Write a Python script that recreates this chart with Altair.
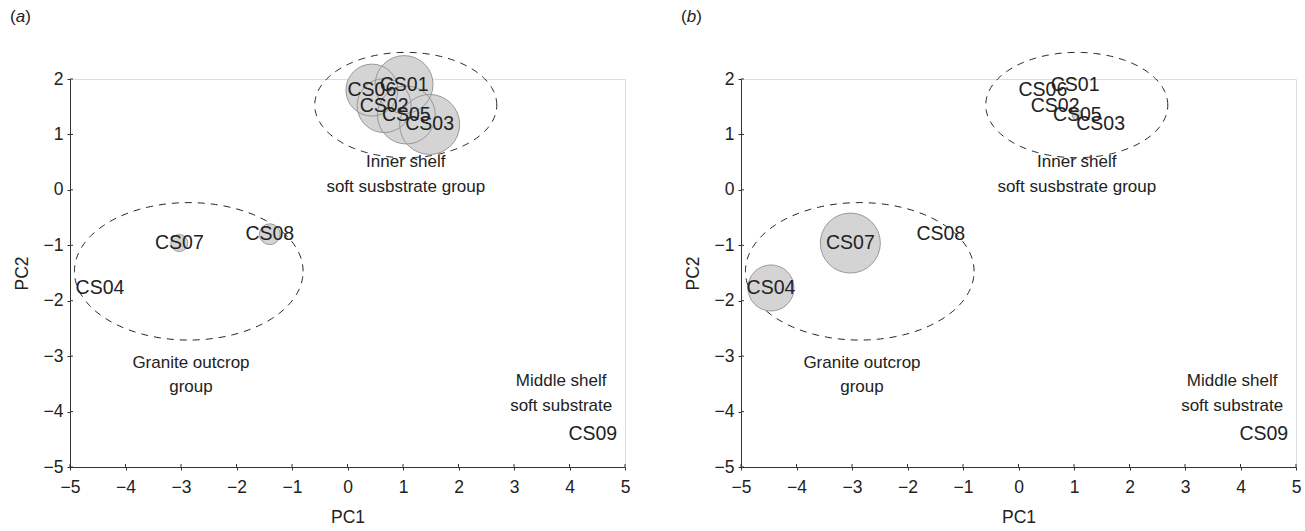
import numpy as np
import pandas as pd
import altair as alt

# ---- data ----
sites = ["CS01", "CS02", "CS03", "CS04", "CS05", "CS06", "CS07", "CS08", "CS09"]
pc1 = [1.02, 0.66, 1.48, -4.46, 1.06, 0.44, -3.03, -1.40, 4.42]
pc2 = [1.90, 1.52, 1.18, -1.77, 1.35, 1.80, -0.96, -0.80, -4.40]
abund_a = [93, 81, 100, 0, 93, 75, 8, 12, 0]
abund_b = [0, 0, 0, 59, 3, 0, 100, 0, 0]

groups = ["inner", "granite"]
ell_cx = [1.05, -2.86]
ell_cy = [1.53, -1.47]
ell_rx = [1.64, 2.06]
ell_ry = [0.95, 1.24]

ann_text = ["Inner shelf", "soft susbstrate group", "Granite outcrop", "group",
            "Middle shelf", "soft substrate"]
ann_x = [1.05, 1.05, -2.82, -2.82, 3.85, 3.85]
ann_y = [0.50, 0.05, -3.12, -3.56, -3.45, -3.90]

x_ticks = [-5, -4, -3, -2, -1, 0, 1, 2, 3, 4, 5]
y_ticks = [-5, -4, -3, -2, -1, 0, 1, 2]

FONT = "Liberation Sans"
W, H = 555, 388

# ---- tables ----
theta = np.linspace(0, 2 * np.pi, 241)
ell_rows = []
for g, cx, cy, rx, ry in zip(groups, ell_cx, ell_cy, ell_rx, ell_ry):
    for i, t in enumerate(theta):
        ell_rows.append({"group": g, "i": i, "x": cx + rx * np.cos(t), "y": cy + ry * np.sin(t)})
ell_df = pd.DataFrame(ell_rows)
ann_df = pd.DataFrame({"text": ann_text, "x": ann_x, "y": ann_y})
xt_df = pd.DataFrame({"t": x_ticks})
yt_df = pd.DataFrame({"t": y_ticks})

xscale = alt.Scale(domain=[-5, 5], nice=False, zero=False)
yscale = alt.Scale(domain=[-5, 2], nice=False, zero=False)

axis_common = dict(
    grid=False, domainColor="#333", tickColor="#333", domainWidth=1, tickWidth=1,
    tickSize=3, labelFont=FONT, labelFontSize=17.5, labelColor="#222", format="d",
    titleFont=FONT, titleFontSize=17.5, titleFontWeight="normal", titleColor="#222",
    labelFlush=False, labelOverlap=False,
)


def panel(abund, letter):
    df = pd.DataFrame({"site": sites, "x": pc1, "y": pc2, "ab": abund})
    X = alt.X("x:Q", scale=xscale, title="PC1",
              axis=alt.Axis(values=x_ticks, labelPadding=8, titlePadding=13, **axis_common))
    Y = alt.Y("y:Q", scale=yscale, title="PC2",
              axis=alt.Axis(values=y_ticks, labelPadding=4, titlePadding=12, **axis_common))
    size = alt.Size("ab:Q", scale=alt.Scale(domain=[0, 100], range=[0, 3600]), legend=None)

    base = alt.Chart(df).transform_filter("datum.ab > 0")
    fills = base.mark_point(shape="circle", filled=True, fill="#d4d4d4", opacity=1,
                            strokeWidth=0).encode(x=X, y=Y, size=size)
    strokes = base.mark_point(shape="circle", filled=False, stroke="#999999", opacity=1,
                              strokeWidth=1).encode(x=X, y=Y, size=size)
    labels = alt.Chart(df).mark_text(font=FONT, fontSize=19.5, color="#222",
                                     baseline="middle").encode(x=X, y=Y, text="site:N")
    ell = alt.Chart(ell_df).mark_line(color="#222", strokeWidth=1, strokeDash=[7, 6]).encode(
        x=alt.X("x:Q", scale=xscale), y=alt.Y("y:Q", scale=yscale),
        detail="group:N", order="i:Q")
    ann = alt.Chart(ann_df).mark_text(font=FONT, fontSize=17, color="#222",
                                      baseline="middle").encode(
        x=alt.X("x:Q", scale=xscale), y=alt.Y("y:Q", scale=yscale), text="text:N")
    xin = alt.Chart(xt_df).mark_rule(color="#333", strokeWidth=1).encode(
        x=alt.X("t:Q", scale=xscale), y=alt.value(H), y2=alt.value(H - 3))
    yin = alt.Chart(yt_df).mark_rule(color="#333", strokeWidth=1).encode(
        y=alt.Y("t:Q", scale=yscale), x=alt.value(0), x2=alt.value(3))
    lab_df = pd.DataFrame({"p": ["(", letter, ")"]})
    p1 = alt.Chart(lab_df).transform_filter("datum.p == '('").mark_text(
        font=FONT, fontSize=17, color="#222", align="left", baseline="middle").encode(
        x=alt.value(-60), y=alt.value(-62), text="p:N")
    p2 = alt.Chart(lab_df).transform_filter(f"datum.p == '{letter}'").mark_text(
        font=FONT, fontSize=17, fontStyle="italic", color="#222", align="left",
        baseline="middle").encode(x=alt.value(-54.2), y=alt.value(-62), text="p:N")
    p3 = alt.Chart(lab_df).transform_filter("datum.p == ')'").mark_text(
        font=FONT, fontSize=17, color="#222", align="left", baseline="middle").encode(
        x=alt.value(-44.8), y=alt.value(-62), text="p:N")
    return alt.layer(ell, fills, strokes, labels, ann, xin, yin, p1, p2, p3).properties(
        width=W, height=H)


chart = alt.hconcat(panel(abund_a, "a"), panel(abund_b, "b"), spacing=116,
                    bounds="flush").properties(
    padding={"left": 9, "top": 7, "right": 2, "bottom": 2}
).configure_view(strokeWidth=0, stroke="transparent").configure(background="white")

chart.save("out.html", embed_options={"renderer": "svg", "actions": False})
